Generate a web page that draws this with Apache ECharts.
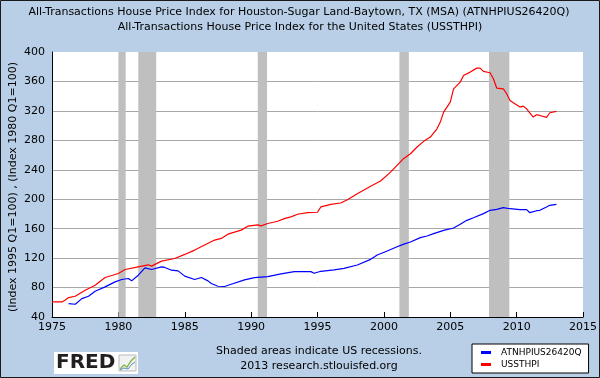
<!DOCTYPE html>
<html>
<head>
<meta charset="utf-8">
<script src="https://cdn.jsdelivr.net/npm/echarts@6/dist/echarts.min.js"></script>
<style>
html,body{margin:0;padding:0;background:#b9cfe7;}
#c{width:600px;height:378px;}
</style>
</head>
<body>
<div id="c"></div>
<script>
// ---- data ----
const titleLines = [
  'All-Transactions House Price Index for Houston-Sugar Land-Baytown, TX (MSA) (ATNHPIUS26420Q)',
  'All-Transactions House Price Index for the United States (USSTHPI)'
];
const seriesNames = ['ATNHPIUS26420Q', 'USSTHPI'];

const usYears = [1975.0,1975.75,1976.0,1976.25,1976.75,1977.5,1978.25,1979.0,1980.0,1980.5,1981.5,1982.25,1982.5,1983.25,1984.25,1985.0,1985.75,1986.5,1987.25,1987.75,1988.25,1989.25,1989.75,1990.5,1990.75,1991.25,1992.0,1992.5,1993.0,1993.5,1994.25,1995.0,1995.25,1996.0,1996.75,1997.25,1998.0,1999.0,1999.75,2000.5,2001.5,2002.0,2002.5,2003.0,2003.5,2004.0,2004.25,2004.5,2005.0,2005.25,2005.75,2006.0,2006.5,2007.0,2007.25,2007.5,2008.0,2008.25,2008.5,2009.0,2009.25,2009.5,2009.75,2010.25,2010.5,2010.75,2011.25,2011.5,2011.75,2012.25,2012.5,2013.0];
const usValues = [60.5,60.5,63,66.4,68.2,76.4,83.2,93.6,99.1,104.5,108.2,110.9,109.1,115.9,119.5,125,130.9,137.7,144.5,146.8,152.5,158,163.4,165.2,163.8,167,170.1,173.7,176,179.6,181.9,182.3,189.5,193.1,194.9,199.4,207.5,217.5,224.7,236.8,255.4,261.8,270.9,278.6,284.4,295.7,304.8,318.4,332,350,359.1,368.1,372.7,378.1,378.1,373.6,371.8,363.6,351,350,343.3,334.2,331,325.2,326.5,322.9,311.6,314.8,313.8,311.1,317.5,319.3];

const houYears = [1976.25,1976.75,1977.25,1977.75,1978.25,1979.0,1979.75,1980.25,1980.75,1981.0,1981.5,1982.0,1982.5,1983.25,1983.5,1984.0,1984.5,1985.0,1985.75,1986.25,1986.75,1987.0,1987.5,1988.0,1988.5,1989.5,1990.25,1991.25,1992.25,1993.25,1994.5,1994.75,1995.25,1996.25,1997.0,1998.0,1999.0,1999.5,2000.25,2001.0,2001.5,2002.0,2002.75,2003.25,2003.75,2004.5,2005.25,2005.75,2006.25,2006.75,2007.5,2008.0,2008.5,2009.0,2009.5,2010.25,2010.75,2011.0,2011.5,2011.75,2012.25,2012.5,2013.0];
const houValues = [58.2,57.3,65,68.2,75,80.9,87.7,90.9,92.3,89.1,96.8,106.8,104.5,108.2,107.3,103.6,102.7,95.5,90.9,93.6,89.1,85.5,81.8,81.4,84.5,90.4,93.5,94.9,98.5,101.6,101.6,99.4,102.1,103.9,106.1,110.6,118.3,124.2,129.6,135.4,139,141.9,147.8,150,153.2,157.7,160.9,165.9,171.3,174.9,180.4,184.9,186.2,188.5,187.1,185.8,185.8,181.7,184.4,184.9,189.4,191.7,193];

const recessionStarts = [1980.0, 1981.5, 1990.5, 2001.17, 2007.92];
const recessionEnds   = [1980.55, 1982.85, 1991.2, 2001.88, 2009.45];

const xMin = 1975, xMax = 2015, xStep = 5;
const yMin = 40, yMax = 400, yStep = 40;
const yAxisTitle = '(Index 1995 Q1=100) , (Index 1980 Q1=100)';
const footLines = ['Shaded areas indicate US recessions.', '2013 research.stlouisfed.org'];

// ---- build ----
const FONT = 'DejaVu Sans';
const pairs = (xs, ys) => xs.map((x, i) => [x, ys[i]]);
const bands = recessionStarts.map((s, i) => [{xAxis: s}, {xAxis: recessionEnds[i]}]);
const txt = (text, x, y, extra) => Object.assign({
  type: 'text', silent: true, x: x, y: y,
  style: {text: text, fill: '#000', font: '11px "DejaVu Sans"', textAlign: 'center', textVerticalAlign: 'middle'}
}, extra || {});

const chart = echarts.init(document.getElementById('c'), null, {renderer: 'canvas'});
chart.setOption({
  animation: false,
  backgroundColor: '#b9cfe7',
  textStyle: {fontFamily: FONT},
  grid: {left: 52, top: 52, right: 8, bottom: 61, containLabel: false,
         show: true, backgroundColor: '#fff', borderWidth: 0},
  xAxis: {
    type: 'value', min: xMin, max: xMax, interval: xStep,
    axisLine: {show: true, lineStyle: {color: '#000', width: 1}},
    axisTick: {show: true, inside: true, length: 5, lineStyle: {color: '#000'}},
    axisLabel: {color: '#000', fontSize: 11, fontFamily: FONT, margin: 5, formatter: v => String(v)},
    splitLine: {show: false}
  },
  yAxis: {
    type: 'value', min: yMin, max: yMax, interval: yStep,
    axisLine: {show: true, lineStyle: {color: '#000', width: 1}},
    axisTick: {show: false},
    axisLabel: {color: '#000', fontSize: 11, fontFamily: FONT, margin: 7},
    splitLine: {show: true, showMaxLine: false, lineStyle: {color: '#a8a8a8', width: 1}}
  },
  legend: {
    data: seriesNames,
    orient: 'vertical', left: 472, top: 344,
    padding: [4, 7, 4, 9], itemGap: 3,
    itemWidth: 10, itemHeight: 3, icon: 'rect',
    backgroundColor: '#fff', borderColor: '#000', borderWidth: 1, borderRadius: 0,
    textStyle: {fontSize: 9, color: '#000', fontFamily: FONT, padding: [0, 0, 0, 5]}
  },
  series: [
    {
      name: 'recessions', type: 'line', data: [], z: 1, silent: true,
      markArea: {silent: true, itemStyle: {color: '#bfbfbf', opacity: 1}, data: bands}
    },
    {
      name: seriesNames[0], type: 'line', data: pairs(houYears, houValues), z: 3,
      showSymbol: false, symbol: 'none', color: '#0000ff',
      lineStyle: {color: '#0000ff', width: 1.2}
    },
    {
      name: seriesNames[1], type: 'line', data: pairs(usYears, usValues), z: 3,
      showSymbol: false, symbol: 'none', color: '#ff0000',
      lineStyle: {color: '#ff0000', width: 1.2}
    }
  ],
  graphic: [
    {type: 'rect', silent: true, z: 100, shape: {x: 0.5, y: 0.5, width: 599, height: 377},
     style: {fill: null, stroke: '#1a1a1a', lineWidth: 1}},
    txt(titleLines[0], 299, 12),
    txt(titleLines[1], 300, 27),
    txt(yAxisTitle, 13, 187, {rotation: Math.PI / 2}),
    txt(footLines[0], 319, 351),
    txt(footLines[1], 319, 366),
    // FRED logo
    {type: 'rect', silent: true, shape: {x: 54, y: 352, width: 84, height: 22}, style: {fill: '#fff'}},
    {type: 'text', silent: true, x: 56, y: 363,
     style: {text: 'FRED', fill: '#231f20', font: 'bold 20px "DejaVu Sans"', textVerticalAlign: 'middle'}},
    {type: 'rect', silent: true, shape: {x: 119, y: 355, width: 17, height: 16},
     style: {fill: '#f2f2f2', stroke: '#bbb', lineWidth: 1}},
    {type: 'polyline', silent: true, shape: {points: [[120,369],[124,365],[127,367],[131,361],[135,357]]},
     style: {stroke: '#7fb24a', lineWidth: 1.3, fill: null}},
    {type: 'polyline', silent: true, shape: {points: [[120,370],[124,368],[128,369],[132,364],[135,362]]},
     style: {stroke: '#5b8fc7', lineWidth: 1, fill: null}}
  ]
});
</script>
</body>
</html>
